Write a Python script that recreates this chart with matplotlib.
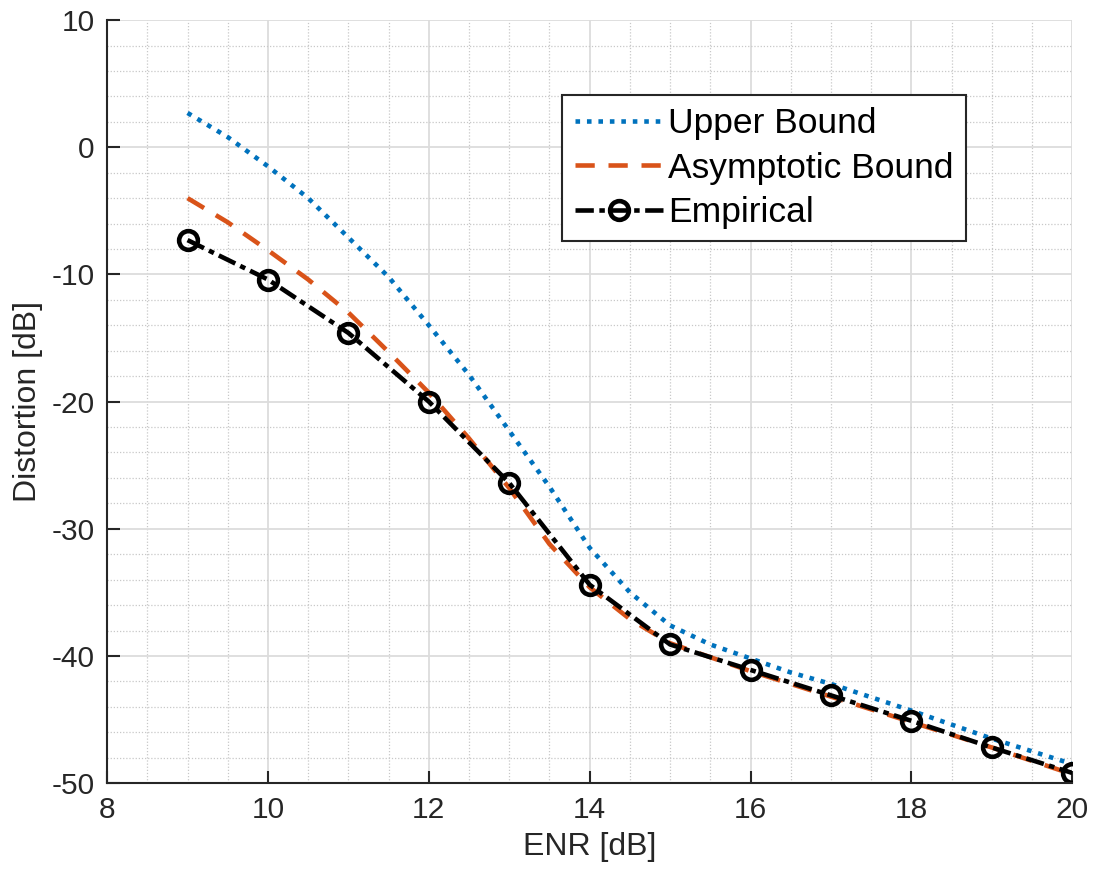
import numpy as np
import matplotlib
matplotlib.use('Agg')
import matplotlib.pyplot as plt
from matplotlib.ticker import MultipleLocator

plt.rcParams['font.family'] = ['Liberation Sans', 'DejaVu Sans']
plt.rcParams['axes.unicode_minus'] = False

# values
enr_upper = [9, 9.5, 10, 10.5, 11, 11.5, 12, 12.5, 13, 13.5, 14, 14.5,
             15, 15.5, 16, 16.5, 17, 18, 19, 20]
upper = [2.7, 0.8, -1.5, -4.0, -7.1, -10.2, -14.0, -17.9, -22.3, -26.7,
         -31.5, -35.0, -37.6, -39.1, -40.2, -41.3, -42.2, -44.3, -46.5, -48.5]

enr_asym = [9, 9.5, 10, 10.5, 11, 11.5, 12, 12.5, 13, 13.5, 14, 14.5,
            15, 16, 17, 18, 19, 20]
asym = [-4.0, -5.9, -8.1, -10.4, -13.0, -16.1, -19.3, -22.9, -26.8, -31.2,
        -34.6, -37.1, -39.0, -41.2, -43.2, -45.2, -47.2, -49.3]

enr_emp = [9, 10, 11, 12, 13, 14, 15, 16, 17, 18, 19, 20]
emp = [-7.3, -10.4, -14.6, -20.0, -26.4, -34.4, -39.1, -41.1, -43.1,
       -45.1, -47.2, -49.2]

fig = plt.figure(figsize=(10.93, 8.74), dpi=100)
ax = fig.add_axes([0.098, 0.104, 0.883, 0.873])

lw = 3.3
ax.plot(enr_upper, upper, color='#0072BD', lw=lw, dashes=(1, 1.5),
        dash_capstyle='butt', label='Upper Bound')
ax.plot(enr_asym, asym, color='#D95319', lw=lw, dashes=(4.2, 3),
        dash_capstyle='butt', label='Asymptotic Bound')
ax.plot(enr_emp, emp, color='black', lw=lw, dashes=(4, 1.2, 1.2, 1.2),
        dash_capstyle='butt', marker='o', ms=13.5, mfc='none', mew=lw,
        label='Empirical')

ax.set_xlim(8, 20)
ax.set_ylim(-50, 10)
ax.xaxis.set_major_locator(MultipleLocator(2))
ax.xaxis.set_minor_locator(MultipleLocator(0.5))
ax.yaxis.set_major_locator(MultipleLocator(10))
ax.yaxis.set_minor_locator(MultipleLocator(2))

ax.grid(which='major', color='#dcdcdc', lw=1.3, ls='-')
ax.grid(which='minor', color='#c8c8c8', lw=0.9, ls=(0, (1, 1.5)))
ax.set_axisbelow(True)

for s in ['top', 'right']:
    ax.spines[s].set_visible(False)
for s in ['left', 'bottom']:
    ax.spines[s].set_color('#262626')
    ax.spines[s].set_linewidth(1.5)

ax.tick_params(which='major', direction='in', length=9, width=1.5,
               colors='#262626', labelsize=21.5, pad=9)
ax.tick_params(which='minor', length=0)

ax.set_xlabel('ENR [dB]', fontsize=23, color='#262626', labelpad=6)
ax.set_ylabel('Distortion [dB]', fontsize=23, color='#262626', labelpad=6)

leg = ax.legend(loc='upper left', bbox_to_anchor=(0.4715, 0.902),
                fontsize=25.5, handlelength=2.5, handletextpad=0.14,
                borderpad=0.35, labelspacing=0.32, fancybox=False,
                framealpha=1, edgecolor='#262626', borderaxespad=0)
leg.get_frame().set_linewidth(1.5)

fig.savefig('out.png', dpi=100)
